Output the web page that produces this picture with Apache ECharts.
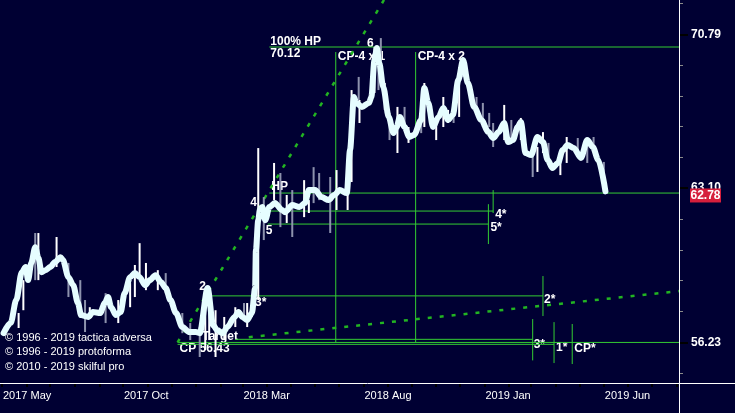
<!DOCTYPE html>
<html><head><meta charset="utf-8">
<script src="https://cdn.jsdelivr.net/npm/echarts@6/dist/echarts.min.js"></script>
<style>html,body{margin:0;padding:0;background:#000033;overflow:hidden}#c{width:735px;height:413px}</style>
</head><body><div id="c"></div>
<script>
// ---------- DATA ----------
const priceDates = ['2017-05-03','2017-05-12','2017-05-19','2017-05-26','2017-05-31','2017-06-03','2017-06-07','2017-06-12','2017-06-16','2017-06-20','2017-06-25','2017-07-01','2017-07-07','2017-07-14','2017-07-17','2017-07-24','2017-07-30','2017-08-05','2017-08-09','2017-08-18','2017-08-24','2017-09-02','2017-09-08','2017-09-12','2017-09-16','2017-09-22','2017-09-28','2017-10-03','2017-10-10','2017-10-16','2017-10-22','2017-10-29','2017-11-04','2017-11-11','2017-11-18','2017-11-24','2017-11-30','2017-12-07','2017-12-15','2017-12-24','2018-01-01','2018-01-06','2018-01-16','2018-01-23','2018-01-28','2018-02-04','2018-02-10','2018-02-19','2018-02-24','2018-03-01','2018-03-07','2018-03-13','2018-03-17','2018-03-18','2018-03-21','2018-03-23','2018-03-26','2018-03-30','2018-04-04','2018-04-11','2018-04-20','2018-04-24','2018-05-03','2018-05-12','2018-05-19','2018-05-24','2018-06-01','2018-06-09','2018-06-18','2018-06-25','2018-07-02','2018-07-11','2018-07-15','2018-07-20','2018-07-23','2018-07-30','2018-08-08','2018-08-11','2018-08-15','2018-08-18','2018-08-21','2018-08-26','2018-09-02','2018-09-08','2018-09-12','2018-09-16','2018-09-22','2018-09-28','2018-10-04','2018-10-13','2018-10-17','2018-10-22','2018-10-28','2018-11-04','2018-11-10','2018-11-16','2018-11-22','2018-11-29','2018-12-05','2018-12-11','2018-12-19','2018-12-28','2019-01-06','2019-01-12','2019-01-19','2019-01-26','2019-01-31','2019-02-06','2019-02-12','2019-02-16','2019-02-22','2019-03-01','2019-03-09','2019-03-16','2019-03-22','2019-03-28','2019-04-04','2019-04-10','2019-04-16','2019-04-24','2019-05-03','2019-05-11','2019-05-18','2019-05-25','2019-06-03'];
const priceValues = [56.62,57.05,58.04,59.26,59.49,58.91,59.67,60.38,59.89,59.26,59.35,59.49,59.71,59.93,59.80,59.04,58.69,57.91,57.39,57.31,57.52,57.48,57.91,58.17,57.73,57.39,57.52,58.34,59.04,59.22,59.04,58.69,58.91,59.13,58.82,58.56,58.04,57.48,56.88,56.67,56.67,56.62,58.56,56.96,56.75,56.62,56.88,57.31,57.52,57.31,57.18,57.48,58.56,60.25,61.61,62.08,62.22,61.61,62.22,62.40,62.08,61.98,62.31,62.22,62.40,63.01,63.01,62.68,62.54,62.78,63.01,62.87,64.92,67.55,67.25,67.05,67.25,67.55,69.44,70.07,69.29,68.06,66.55,65.75,66.05,66.55,66.05,65.56,65.66,66.40,68.00,67.25,66.05,66.55,67.00,66.40,66.65,68.41,69.44,68.26,67.05,66.40,65.80,65.51,65.80,66.25,65.31,65.41,66.05,66.30,64.78,64.68,65.56,65.31,64.44,64.06,64.30,64.92,65.17,65.02,64.54,65.41,65.07,64.44,62.95];

const barDates = ['2017-05-22','2017-05-28','2017-06-12','2017-06-16','2017-07-09','2017-07-24','2017-08-08','2017-08-14','2017-08-20','2017-09-09','2017-09-25','2017-10-10','2017-10-16','2017-10-22','2017-10-30','2017-11-14','2017-11-24','2017-12-15','2017-12-25','2018-01-06','2018-01-13','2018-01-18','2018-01-26','2018-02-06','2018-02-20','2018-03-03','2018-03-07','2018-03-13','2018-03-21','2018-03-28','2018-04-10','2018-04-18','2018-04-26','2018-05-03','2018-05-18','2018-05-24','2018-05-30','2018-06-06','2018-06-20','2018-06-28','2018-07-12','2018-07-17','2018-07-26','2018-07-27','2018-08-15','2018-08-20','2018-08-23','2018-08-28','2018-09-03','2018-09-13','2018-09-22','2018-09-27','2018-10-13','2018-10-17','2018-11-01','2018-11-10','2018-11-16','2018-11-23','2018-11-30','2018-12-05','2018-12-22','2018-12-30','2019-01-07','2019-01-12','2019-01-26','2019-02-04','2019-02-16','2019-03-03','2019-03-09','2019-03-16','2019-03-23','2019-04-07','2019-04-15','2019-04-29','2019-05-11','2019-05-19','2019-06-01'];
const barHigh = [57.48,58.91,61.02,61.02,60.84,59.67,58.91,58.04,57.73,58.34,58.04,58.78,59.58,60.56,59.67,59.35,59.22,57.48,57.05,56.88,58.47,57.60,57.60,57.31,57.73,57.91,57.91,58.04,65.02,62.68,64.30,63.82,62.78,63.01,63.48,62.54,64.10,63.82,63.63,63.96,63.96,67.90,68.57,67.40,70.12,69.96,70.59,68.26,66.75,67.05,67.05,66.05,66.55,68.26,66.25,67.55,66.90,67.05,69.08,69.60,67.55,67.25,66.75,66.25,67.15,66.40,66.50,64.59,65.07,65.80,65.27,64.59,65.56,65.51,65.27,65.56,64.35];
const barLow = [56.84,57.60,58.91,58.91,59.49,58.17,57.60,56.67,57.26,57.05,57.05,57.73,58.17,59.04,58.47,58.47,58.34,56.62,56.33,55.62,55.91,56.33,55.62,56.33,56.88,57.18,56.88,57.31,58.04,60.70,62.54,61.29,61.48,60.84,61.75,61.94,62.40,62.54,61.02,62.08,62.08,63.39,67.40,66.25,67.75,67.90,68.57,66.90,65.41,64.78,66.05,65.27,65.75,66.05,65.41,66.05,66.25,66.25,66.55,68.57,66.75,66.05,66.05,65.07,65.41,65.27,65.41,63.63,63.87,64.78,64.30,63.72,64.30,64.59,64.30,64.92,62.92];
const barUp = [1,1,0,1,1,0,0,0,1,0,1,1,1,1,1,1,0,0,0,0,1,1,1,1,1,0,1,1,1,0,1,0,1,0,1,1,0,0,0,1,1,1,0,1,1,0,0,1,0,1,0,1,0,1,1,1,1,0,1,0,0,0,0,0,1,0,1,0,1,1,0,1,1,0,0,0,0];

// solid green level lines: [startDate, startPrice, endDate, endPrice]
const levelLines = [
  ['2018-04-04',70.12,'2019-09-04',70.12],
  ['2018-04-04',62.87,'2019-09-04',62.87],
  ['2018-04-04',62.03,'2019-01-12',62.03],
  ['2018-04-02',61.43,'2019-01-06',61.43],
  ['2019-01-12',63.01,'2019-01-12',61.94],
  ['2019-01-06',62.35,'2019-01-06',60.52],
  ['2018-01-18',58.22,'2019-03-16',58.22],
  ['2019-03-16',59.09,'2019-03-16',57.35],
  ['2018-02-20',56.36,'2019-03-03',56.36],
  ['2017-12-09',56.23,'2019-09-04',56.23],
  ['2017-12-09',56.15,'2019-03-30',56.15],
  ['2019-03-03',57.22,'2019-03-03',55.48],
  ['2019-03-30',57.09,'2019-03-30',55.37],
  ['2019-04-22',57.01,'2019-04-22',55.33],
  ['2018-06-27',69.86,'2018-06-27',56.23],
  ['2018-10-06',69.86,'2018-10-06',56.23]
];
// dotted trend lines
const trendLines = [
  ['2017-12-09',56.23,'2018-08-27',72.63],
  ['2018-03-09',56.45,'2019-09-04',58.43]
];
// annotation texts anchored at [date, price]
const annoTexts  = ['100% HP','70.12','6','CP-4 x 1','CP-4 x 2','HP','4','5','3*','2','Target','CP 56.43','4*','5*','2*','3*','1*','CP*'];
const annoDates  = ['2018-04-04','2018-04-04','2018-08-18','2018-06-27','2018-10-06','2018-04-04','2018-04-04','2018-04-02','2018-03-17','2018-01-18','2018-01-13','2017-12-09','2019-01-12','2019-01-06','2019-03-16','2019-03-03','2019-03-30','2019-04-22'];
const annoPrices = [70.12,70.12,70.07,69.86,69.86,62.87,62.03,61.43,58.22,58.22,56.36,56.23,62.03,61.43,58.22,56.36,56.15,56.23];
const yLabelValues = [56.23, 63.10, 70.79];
const xLabelDates = ['2017-05-01','2017-10-01','2018-03-01','2018-08-01','2019-01-01','2019-06-01'];
const xLabelTexts = ['2017 May','2017 Oct','2018 Mar','2018 Aug','2019 Jan','2019 Jun'];
const lastPrice = 62.78;
const copyrights = ['© 1996 - 2019 tactica adversa','© 1996 - 2019 protoforma','© 2010 - 2019 skilful pro'];

// ---------- LAYOUT / STYLE ----------
const annoOffsets = [[1,-11],[1,1],[-10,-10],[2,-1],[2,-1],[2,-12],[-19,-14],[-2,1],[0,1],[-10,-15],[-3,-9],[2,0],[2,-2],[2,-2],[1,-2],[1,-1],[2,-3],[2,0]];
const FONT = '"Liberation Sans", Arial, sans-serif';
const T = s => Date.parse(s);
const L = v => Math.log10(v);
const xMin = T('2017-05-01'), xMax = T('2019-09-04');
const yMin = 1.7368, yMax = 1.8611;

const monthTicks = [];
for (let y = 2017; y <= 2019; y++) for (let m = 0; m < 12; m++) {
  const t = Date.UTC(y, m, 1); if (t >= xMin && t <= xMax) monthTicks.push(t);
}
const yMinorTicks = [];
for (let i = 174; i <= 186; i++) yMinorTicks.push(i / 100);
const xLabelMap = {};
xLabelDates.forEach((d, i) => xLabelMap[T(d)] = xLabelTexts[i]);

const chart = echarts.init(document.getElementById('c'), null, {renderer: 'canvas'});
const GREEN = '#33cc33', DOT = '#22b422';

const segSeries = (segs, style) => segs.map(s => ({
  type: 'line', z: 2, silent: true, showSymbol: false, symbol: 'none', animation: false,
  lineStyle: style, emphasis: {disabled: true},
  data: [[T(s[0]), L(s[1])], [T(s[2]), L(s[3])]]
}));

const option = {
  backgroundColor: '#000033',
  animation: false,
  tooltip: {show: false},
  grid: {left: -2, right: 56, top: 0, bottom: 30},
  xAxis: {
    type: 'value', min: xMin, max: xMax,
    axisLine: {show: false},
    splitLine: {show: false},
    axisTick: {show: true, customValues: monthTicks, length: 4, lineStyle: {color: '#000000', width: 2}},
    axisLabel: {
      customValues: xLabelDates.map(T), align: 'left', margin: 7,
      padding: [0, 0, 0, 1],
      formatter: v => xLabelMap[v] || '',
      color: '#ffffff', fontSize: 11, fontFamily: FONT
    }
  },
  yAxis: [
    {type: 'value', position: 'right', min: yMin, max: yMax,
     axisLine: {show: false}, splitLine: {show: false},
     axisTick: {show: true, customValues: yMinorTicks, length: 4, lineStyle: {color: '#8a8a8a'}},
     axisLabel: {show: false}},
    {type: 'value', position: 'right', min: yMin, max: yMax,
     axisLine: {show: false}, splitLine: {show: false},
     axisTick: {show: true, customValues: yLabelValues.map(L), length: 9, lineStyle: {color: '#000000', width: 2}},
     axisLabel: {customValues: yLabelValues.map(L), margin: 12,
       formatter: v => Math.pow(10, v).toFixed(2),
       color: '#ffffff', fontSize: 12, fontWeight: 'bold', fontFamily: FONT}}
  ],
  series: [
    ...segSeries(levelLines, {color: GREEN, width: 1}),
    ...segSeries(trendLines, {color: DOT, width: 2.5, type: [4, 8]}),
    {type: 'custom', z: 3, silent: true,
     encode: {x: 0, y: [1, 2]},
     data: barDates.map((d, i) => [T(d), L(barHigh[i]), L(barLow[i]), barUp[i]]),
     renderItem: (params, api) => {
       const hi = api.coord([api.value(0), api.value(1)]);
       const lo = api.coord([api.value(0), api.value(2)]);
       return {type: 'line', shape: {x1: hi[0], y1: hi[1], x2: lo[0], y2: lo[1]},
               style: {stroke: api.value(3) ? '#ffffff' : '#8d92ad', lineWidth: 2}};
     }},
    {type: 'line', z: 4, silent: true, showSymbol: false, symbol: 'none', smooth: 0.3, smoothMonotone: 'x',
     lineStyle: {color: '#e6fdff', width: 6, cap: 'round', join: 'round'},
     emphasis: {disabled: true},
     data: priceDates.map((d, i) => [T(d), L(priceValues[i])])}
  ]
};
chart.setOption(option);

const g = [];
g.push({type: 'line', z: 20, shape: {x1: 0, y1: 383.5, x2: 735, y2: 383.5}, style: {stroke: '#ffffff', lineWidth: 1}});
g.push({type: 'line', z: 20, shape: {x1: 679.5, y1: 0, x2: 679.5, y2: 413}, style: {stroke: '#ffffff', lineWidth: 1}});
annoTexts.forEach((t, i) => {
  const p = chart.convertToPixel({gridIndex: 0}, [T(annoDates[i]), L(annoPrices[i])]);
  g.push({type: 'text', z: 1, silent: true,
    style: {text: t, x: p[0] + annoOffsets[i][0], y: p[1] + annoOffsets[i][1],
      fill: '#ffffff', fontSize: 12, fontWeight: 'bold', fontFamily: FONT, verticalAlign: 'top', align: 'left'}});
});
copyrights.forEach((t, i) => {
  g.push({type: 'text', z: 30, silent: true,
    style: {text: t, x: 5, y: 332 + i * 14.5, fill: '#ffffff', fontSize: 11, fontFamily: FONT, verticalAlign: 'top'}});
});
const py = chart.convertToPixel({yAxisIndex: 1}, L(lastPrice));
g.push({type: 'rect', z: 40, shape: {x: 690, y: py - 6.5, width: 31, height: 14}, style: {fill: '#d61e3c'}});
g.push({type: 'text', z: 41, style: {text: lastPrice.toFixed(2), x: 705.5, y: py + 0.5, fill: '#ffffff', fontSize: 12, fontWeight: 'bold', fontFamily: FONT, align: 'center', verticalAlign: 'middle'}});
chart.setOption({graphic: {elements: g}});
</script>
</body></html>
